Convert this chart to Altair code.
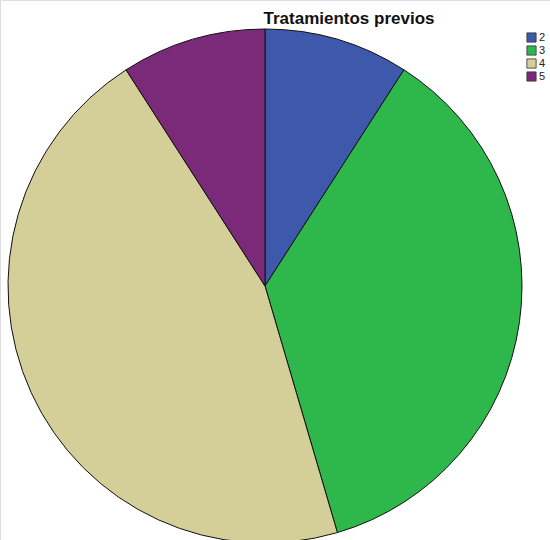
import altair as alt
import pandas as pd

categories = ["2", "3", "4", "5"]
counts = [1, 4, 5, 1]
colors = ["#3E58AC", "#2EB84B", "#D4CE98", "#7B2A7A"]

df = pd.DataFrame({"cat": categories, "n": counts, "ord": list(range(len(categories)))})

pie = alt.Chart(df).mark_arc(
    radius=257, stroke="#111111", strokeWidth=1
).encode(
    theta=alt.Theta("n:Q", stack=True),
    order=alt.Order("ord:Q"),
    color=alt.Color(
        "cat:N",
        scale=alt.Scale(domain=categories, range=colors),
        legend=alt.Legend(
            title=None,
            orient="none",
            legendX=526,
            legendY=32,
            symbolType="square",
            symbolSize=85,
            symbolStrokeColor="#333333",
            symbolStrokeWidth=0.8,
            labelFontSize=11,
            labelFont="Liberation Sans",
            labelColor="#222222",
            rowPadding=0,
            labelOffset=2,
        ),
    ),
    x=alt.value(265),
    y=alt.value(286),
)

title = alt.Chart(df).mark_text(
    font="Liberation Sans", fontSize=17, fontWeight="bold", color="#111111",
    align="center", baseline="alphabetic"
).encode(
    x=alt.value(349), y=alt.value(24), text=alt.value("Tratamientos previos")
).transform_filter("datum.ord == 0")

chart = alt.layer(pie, title).properties(
    width=550, height=540, autosize=alt.AutoSizeParams(type="none"), padding=0
).configure_view(stroke=None).configure(background="white")

chart.save("out.html", embed_options={"renderer": "svg", "actions": False})
